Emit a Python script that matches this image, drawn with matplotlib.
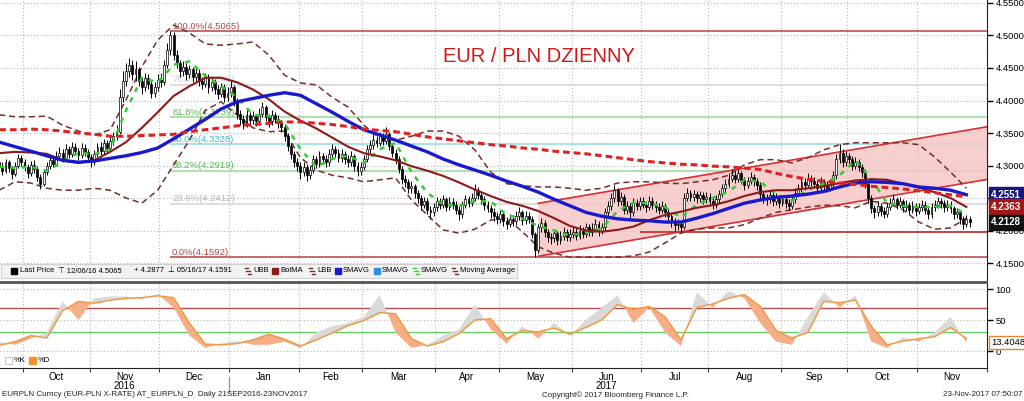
import numpy as np
import pandas as pd
import matplotlib
matplotlib.use("Agg")
import matplotlib.pyplot as plt
import matplotlib.transforms as mtransforms
from matplotlib.patches import Rectangle, Polygon

plt.rcParams['font.family'] = ['Liberation Sans', 'DejaVu Sans']

# ---- daily EUR/PLN bars, 21 Sep 2016 - 23 Nov 2017 (business days) ----
start, end, axis_end = "2016-09-21", "2017-11-23", "2017-12-01"
first_open = 4.305
closes = [
    4.300, 4.292, 4.305, 4.296, 4.287, 4.300, 4.311, 4.306, 4.298, 4.288,
    4.301, 4.295, 4.283, 4.272, 4.290, 4.300, 4.308, 4.303, 4.315, 4.320,
    4.312, 4.325, 4.318, 4.328, 4.322, 4.316, 4.327, 4.321, 4.313, 4.306,
    4.318, 4.328, 4.322, 4.334, 4.327, 4.338, 4.345, 4.352, 4.405, 4.430,
    4.445, 4.455, 4.440, 4.448, 4.430, 4.420, 4.435, 4.425, 4.412, 4.420,
    4.432, 4.428, 4.455, 4.478, 4.500, 4.470, 4.458, 4.445, 4.452, 4.440,
    4.448, 4.436, 4.443, 4.430, 4.425, 4.435, 4.420, 4.428, 4.418, 4.410,
    4.420, 4.405, 4.412, 4.420, 4.400, 4.380, 4.372, 4.365, 4.378, 4.370,
    4.376, 4.368, 4.380, 4.390, 4.375, 4.368, 4.378, 4.372, 4.365, 4.360,
    4.345, 4.330, 4.318, 4.305, 4.300, 4.290, 4.298, 4.285, 4.293, 4.310,
    4.302, 4.315, 4.310, 4.305, 4.318, 4.325, 4.320, 4.312, 4.318, 4.310,
    4.305, 4.315, 4.300, 4.292, 4.298, 4.310, 4.325, 4.332, 4.340, 4.335,
    4.345, 4.338, 4.348, 4.330, 4.320, 4.310, 4.295, 4.280, 4.275, 4.265,
    4.268, 4.258, 4.250, 4.240, 4.245, 4.232, 4.228, 4.236, 4.245, 4.240,
    4.248, 4.236, 4.244, 4.240, 4.232, 4.225, 4.240, 4.248, 4.243, 4.250,
    4.262, 4.255, 4.248, 4.240, 4.235, 4.228, 4.222, 4.218, 4.225, 4.215,
    4.210, 4.218, 4.214, 4.222, 4.228, 4.216, 4.222, 4.218, 4.195, 4.170,
    4.205, 4.212, 4.198, 4.190, 4.188, 4.196, 4.185, 4.192, 4.198, 4.190,
    4.195, 4.198, 4.192, 4.200, 4.195, 4.205, 4.198, 4.203, 4.210, 4.200,
    4.205, 4.228, 4.238, 4.250, 4.262, 4.245, 4.252, 4.232, 4.238, 4.228,
    4.243, 4.238, 4.245, 4.240, 4.236, 4.246, 4.240, 4.236, 4.232, 4.238,
    4.228, 4.222, 4.214, 4.208, 4.210, 4.205, 4.250, 4.258, 4.252, 4.256,
    4.250, 4.254, 4.248, 4.252, 4.246, 4.240, 4.248, 4.256, 4.265, 4.272,
    4.280, 4.286, 4.280, 4.288, 4.278, 4.270, 4.276, 4.282, 4.276, 4.270,
    4.256, 4.250, 4.248, 4.255, 4.245, 4.250, 4.242, 4.248, 4.242, 4.238,
    4.248, 4.258, 4.265, 4.275, 4.270, 4.280, 4.276, 4.272, 4.266, 4.275,
    4.270, 4.266, 4.272, 4.285, 4.310, 4.320, 4.305, 4.315, 4.310, 4.300,
    4.306, 4.298, 4.290, 4.272, 4.250, 4.235, 4.228, 4.238, 4.230, 4.226,
    4.236, 4.242, 4.248, 4.240, 4.245, 4.236, 4.240, 4.232, 4.238, 4.230,
    4.236, 4.240, 4.232, 4.225, 4.236, 4.240, 4.245, 4.242, 4.236, 4.240,
    4.234, 4.225, 4.228, 4.218, 4.210, 4.218, 4.2128]
highs = [
    4.312, 4.306, 4.310, 4.309, 4.300, 4.306, 4.318, 4.316, 4.310, 4.302,
    4.307, 4.308, 4.299, 4.287, 4.295, 4.306, 4.315, 4.313, 4.322, 4.329,
    4.326, 4.333, 4.330, 4.336, 4.334, 4.327, 4.335, 4.333, 4.326, 4.318,
    4.324, 4.335, 4.336, 4.341, 4.340, 4.345, 4.352, 4.362, 4.418, 4.445,
    4.458, 4.465, 4.462, 4.460, 4.452, 4.436, 4.442, 4.440, 4.430, 4.428,
    4.440, 4.442, 4.462, 4.488, 4.5065, 4.505, 4.478, 4.462, 4.460, 4.458,
    4.455, 4.452, 4.450, 4.448, 4.436, 4.442, 4.440, 4.436, 4.433, 4.424,
    4.427, 4.425, 4.420, 4.430, 4.424, 4.404, 4.386, 4.378, 4.385, 4.383,
    4.384, 4.380, 4.388, 4.398, 4.393, 4.380, 4.385, 4.383, 4.377, 4.370,
    4.364, 4.350, 4.335, 4.322, 4.312, 4.306, 4.305, 4.302, 4.300, 4.316,
    4.315, 4.322, 4.320, 4.316, 4.325, 4.333, 4.330, 4.326, 4.325, 4.322,
    4.316, 4.322, 4.318, 4.305, 4.306, 4.316, 4.332, 4.340, 4.348, 4.346,
    4.352, 4.350, 4.360, 4.352, 4.335, 4.325, 4.314, 4.300, 4.286, 4.280,
    4.276, 4.272, 4.263, 4.255, 4.252, 4.250, 4.238, 4.243, 4.252, 4.250,
    4.255, 4.252, 4.251, 4.250, 4.245, 4.237, 4.246, 4.255, 4.253, 4.258,
    4.272, 4.267, 4.260, 4.253, 4.246, 4.240, 4.234, 4.228, 4.232, 4.229,
    4.221, 4.225, 4.224, 4.230, 4.236, 4.232, 4.230, 4.228, 4.222, 4.198,
    4.210, 4.220, 4.216, 4.203, 4.196, 4.203, 4.200, 4.199, 4.205, 4.203,
    4.202, 4.206, 4.204, 4.208, 4.206, 4.212, 4.210, 4.211, 4.218, 4.214,
    4.212, 4.235, 4.246, 4.258, 4.270, 4.266, 4.260, 4.256, 4.246, 4.242,
    4.250, 4.249, 4.252, 4.251, 4.246, 4.253, 4.252, 4.245, 4.242, 4.245,
    4.242, 4.233, 4.227, 4.220, 4.217, 4.215, 4.258, 4.266, 4.263, 4.263,
    4.261, 4.261, 4.259, 4.259, 4.257, 4.251, 4.255, 4.263, 4.272, 4.280,
    4.288, 4.294, 4.292, 4.296, 4.292, 4.283, 4.283, 4.290, 4.287, 4.281,
    4.274, 4.261, 4.256, 4.262, 4.259, 4.257, 4.254, 4.255, 4.253, 4.248,
    4.255, 4.265, 4.272, 4.283, 4.281, 4.288, 4.286, 4.282, 4.277, 4.282,
    4.280, 4.276, 4.280, 4.292, 4.318, 4.333, 4.325, 4.322, 4.320, 4.314,
    4.313, 4.310, 4.302, 4.294, 4.276, 4.254, 4.240, 4.245, 4.243, 4.236,
    4.243, 4.250, 4.256, 4.252, 4.252, 4.249, 4.247, 4.244, 4.245, 4.242,
    4.243, 4.247, 4.245, 4.237, 4.243, 4.247, 4.252, 4.250, 4.247, 4.247,
    4.245, 4.238, 4.235, 4.232, 4.222, 4.224, 4.222]
lows = [
    4.292, 4.285, 4.288, 4.290, 4.280, 4.284, 4.296, 4.300, 4.292, 4.281,
    4.284, 4.289, 4.276, 4.264, 4.268, 4.285, 4.295, 4.297, 4.299, 4.310,
    4.306, 4.308, 4.312, 4.313, 4.316, 4.309, 4.311, 4.314, 4.307, 4.298,
    4.301, 4.313, 4.316, 4.318, 4.320, 4.322, 4.332, 4.340, 4.348, 4.398,
    4.422, 4.436, 4.432, 4.430, 4.422, 4.410, 4.414, 4.418, 4.404, 4.406,
    4.415, 4.420, 4.424, 4.450, 4.470, 4.462, 4.450, 4.436, 4.438, 4.432,
    4.434, 4.428, 4.430, 4.422, 4.418, 4.420, 4.412, 4.414, 4.410, 4.402,
    4.405, 4.398, 4.399, 4.406, 4.392, 4.372, 4.362, 4.356, 4.360, 4.363,
    4.364, 4.361, 4.363, 4.374, 4.368, 4.360, 4.362, 4.365, 4.358, 4.352,
    4.338, 4.322, 4.310, 4.297, 4.292, 4.280, 4.284, 4.276, 4.280, 4.288,
    4.296, 4.298, 4.303, 4.298, 4.300, 4.312, 4.313, 4.305, 4.306, 4.303,
    4.298, 4.300, 4.292, 4.284, 4.286, 4.293, 4.306, 4.320, 4.326, 4.328,
    4.330, 4.331, 4.333, 4.324, 4.313, 4.302, 4.288, 4.272, 4.267, 4.257,
    4.258, 4.250, 4.242, 4.232, 4.234, 4.225, 4.218, 4.222, 4.230, 4.233,
    4.235, 4.230, 4.231, 4.233, 4.225, 4.216, 4.220, 4.235, 4.236, 4.238,
    4.246, 4.248, 4.241, 4.232, 4.228, 4.220, 4.214, 4.210, 4.212, 4.207,
    4.203, 4.205, 4.207, 4.209, 4.216, 4.209, 4.210, 4.211, 4.188, 4.1591,
    4.165, 4.198, 4.190, 4.183, 4.180, 4.182, 4.178, 4.180, 4.186, 4.184,
    4.184, 4.189, 4.185, 4.187, 4.188, 4.190, 4.191, 4.192, 4.197, 4.192,
    4.194, 4.200, 4.222, 4.232, 4.244, 4.238, 4.240, 4.225, 4.226, 4.220,
    4.223, 4.231, 4.232, 4.234, 4.229, 4.231, 4.233, 4.229, 4.225, 4.227,
    4.221, 4.214, 4.206, 4.200, 4.201, 4.198, 4.202, 4.245, 4.245, 4.246,
    4.243, 4.244, 4.241, 4.242, 4.239, 4.233, 4.235, 4.243, 4.251, 4.260,
    4.267, 4.275, 4.273, 4.275, 4.271, 4.263, 4.265, 4.271, 4.269, 4.263,
    4.249, 4.242, 4.240, 4.243, 4.238, 4.240, 4.235, 4.237, 4.235, 4.231,
    4.233, 4.243, 4.253, 4.260, 4.263, 4.265, 4.269, 4.265, 4.259, 4.261,
    4.263, 4.259, 4.261, 4.267, 4.280, 4.304, 4.298, 4.300, 4.303, 4.293,
    4.295, 4.291, 4.283, 4.265, 4.242, 4.227, 4.220, 4.223, 4.223, 4.219,
    4.221, 4.231, 4.237, 4.233, 4.234, 4.229, 4.230, 4.225, 4.227, 4.223,
    4.225, 4.230, 4.226, 4.218, 4.220, 4.230, 4.234, 4.235, 4.229, 4.230,
    4.227, 4.218, 4.219, 4.210, 4.202, 4.205, 4.206]

# ---- indicator lines, read every 5th session ----
step = 5
sma200 = [
    4.355, 4.355, 4.356, 4.355, 4.353, 4.350, 4.348, 4.345, 4.345, 4.346,
    4.347, 4.348, 4.352, 4.355, 4.358, 4.361, 4.363, 4.365, 4.367, 4.367,
    4.365, 4.363, 4.360, 4.356, 4.354, 4.352, 4.348, 4.344, 4.341, 4.338,
    4.335, 4.332, 4.330, 4.327, 4.325, 4.322, 4.320, 4.318, 4.315, 4.312,
    4.309, 4.306, 4.304, 4.302, 4.301, 4.299, 4.298, 4.296, 4.294, 4.288,
    4.283, 4.279, 4.276, 4.273, 4.271, 4.268, 4.266, 4.264, 4.261, 4.258,
    4.255, 4.252]
sma50 = [
    4.336, 4.329, 4.322, 4.315, 4.308, 4.305, 4.307, 4.311, 4.315, 4.320,
    4.327, 4.341, 4.356, 4.371, 4.387, 4.398, 4.403, 4.408, 4.412, 4.408,
    4.395, 4.382, 4.368, 4.355, 4.347, 4.339, 4.330, 4.321, 4.310, 4.301,
    4.293, 4.285, 4.276, 4.268, 4.259, 4.248, 4.238, 4.228, 4.222, 4.218,
    4.216, 4.215, 4.213, 4.213, 4.219, 4.226, 4.234, 4.242, 4.247, 4.251,
    4.253, 4.256, 4.260, 4.267, 4.273, 4.275, 4.274, 4.272, 4.267, 4.265,
    4.262, 4.2551]
bol_ma = [
    4.319, 4.321, 4.320, 4.318, 4.308, 4.304, 4.308, 4.321, 4.336, 4.358,
    4.382, 4.407, 4.422, 4.435, 4.435, 4.428, 4.417, 4.402, 4.383, 4.369,
    4.357, 4.343, 4.329, 4.319, 4.314, 4.308, 4.299, 4.292, 4.284, 4.274,
    4.263, 4.253, 4.244, 4.238, 4.230, 4.219, 4.207, 4.200, 4.198, 4.201,
    4.206, 4.216, 4.224, 4.229, 4.235, 4.239, 4.245, 4.253, 4.259, 4.262,
    4.262, 4.265, 4.268, 4.273, 4.277, 4.279, 4.278, 4.272, 4.266, 4.259,
    4.250, 4.2363]
bol_up = [
    4.378, 4.375, 4.375, 4.376, 4.362, 4.353, 4.347, 4.355, 4.401, 4.452,
    4.493, 4.516, 4.504, 4.487, 4.485, 4.487, 4.490, 4.470, 4.439, 4.427,
    4.424, 4.405, 4.390, 4.362, 4.342, 4.339, 4.345, 4.353, 4.353, 4.345,
    4.324, 4.290, 4.272, 4.269, 4.267, 4.267, 4.265, 4.262, 4.265, 4.273,
    4.275, 4.275, 4.273, 4.272, 4.275, 4.278, 4.285, 4.301, 4.309, 4.309,
    4.304, 4.312, 4.324, 4.332, 4.335, 4.335, 4.335, 4.335, 4.332, 4.313,
    4.290, 4.265]
bol_lo = [
    4.262, 4.275, 4.273, 4.265, 4.262, 4.262, 4.265, 4.262, 4.250, 4.242,
    4.262, 4.301, 4.339, 4.385, 4.398, 4.378, 4.358, 4.352, 4.353, 4.312,
    4.293, 4.285, 4.281, 4.275, 4.278, 4.281, 4.247, 4.224, 4.201, 4.196,
    4.202, 4.216, 4.219, 4.198, 4.175, 4.165, 4.159, 4.159, 4.159, 4.159,
    4.161, 4.167, 4.181, 4.196, 4.202, 4.204, 4.204, 4.209, 4.219, 4.228,
    4.232, 4.236, 4.239, 4.238, 4.235, 4.245, 4.242, 4.232, 4.213, 4.202,
    4.204, 4.219]
sma_fast = [
    4.298, 4.296, 4.298, 4.292, 4.305, 4.320, 4.317, 4.325, 4.385, 4.435,
    4.428, 4.455, 4.460, 4.438, 4.422, 4.405, 4.378, 4.376, 4.365, 4.325,
    4.298, 4.310, 4.315, 4.304, 4.325, 4.335, 4.290, 4.258, 4.240, 4.238,
    4.245, 4.245, 4.224, 4.218, 4.207, 4.200, 4.192, 4.197, 4.203, 4.230,
    4.243, 4.242, 4.236, 4.220, 4.240, 4.250, 4.260, 4.278, 4.275, 4.256,
    4.246, 4.262, 4.272, 4.285, 4.308, 4.280, 4.242, 4.238, 4.236, 4.236,
    4.238, 4.225]
stoch_k = [
    15, 10, 20, 30, 80, 50, 85, 88, 88, 84, 92, 70, 25, 5, 12, 16, 10, 10, 15, 5,
    30, 40, 45, 55, 90, 30, 5, 10, 25, 35, 75, 35, 12, 40, 20, 45, 25, 50, 70, 90,
    45, 70, 30, 8, 95, 70, 97, 85, 45, 15, 10, 55, 95, 70, 90, 15, 5, 22, 15, 30,
    55, 13.4]
stoch_d = [
    9, 15, 25, 21, 65, 80, 77, 82, 85, 86, 89, 86, 45, 11, 10, 12, 18, 27, 19, 8,
    18, 29, 41, 49, 62, 60, 20, 8, 15, 28, 50, 52, 20, 33, 31, 37, 27, 38, 50, 75,
    67, 72, 55, 18, 70, 76, 85, 91, 72, 33, 21, 30, 80, 78, 82, 40, 10, 16, 20, 23,
    38, 20]

# ---- drawing tools: Fibonacci retracement, trend channel, support ----
fib_from = "2016-12-06"
fib_pct = ["100.0%", "76.4%", "61.8%", "50.0%", "38.2%", "23.6%", "0.0%"]
fib_val = [4.5065, 4.4245, 4.3739, 4.3328, 4.2919, 4.2412, 4.1592]
fib_line = ["#b04444", "#d4d4d4", "#9ad89a", "#8fdcdc", "#9ad89a", "#d4d4d4", "#b04444"]
fib_text = ["#b04444", "#d0d0d0", "#55b855", "#44bbcc", "#55b855", "#b8b8b8", "#b04444"]
channel_dates = ["2017-05-17", "2017-12-01"]
channel_top = [4.2419, 4.3600]
channel_bot = [4.1604, 4.2790]
support_from, support = "2017-06-30", 4.1975
last_vals = [4.2551, 4.2363, 4.2128]
last_cols = ["#16167c", "#a31616", "#111111"]
stoch_last = 13.4048

# ---- positions on a business-day axis ----
days = pd.bdate_range(start, axis_end)
def pos(d):
    return days.get_loc(pd.Timestamp(d))

closes = np.array(closes); highs = np.array(highs); lows = np.array(lows)
x = np.arange(len(closes))
opens = np.r_[first_open, closes[:-1]]
xs = np.arange(0, len(closes), step)[:len(sma200)]

mon = days.month
bounds = [i - 0.5 for i in range(1, len(days)) if mon[i] != mon[i - 1]]
centers = [(a + b) / 2 for a, b in zip(bounds[:-1], bounds[1:])]
mlabels = [days[int(b + 0.5)].strftime("%b") for b in bounds[:-1]]

fig = plt.figure(figsize=(10.24, 4.01), dpi=100)
ax = fig.add_axes([0, 1 - 282 / 401, 987 / 1024, 282 / 401])
ax2 = fig.add_axes([0, 1 - 368 / 401, 987 / 1024, 85 / 401], sharex=ax)
ax.set_xlim(0.26, 310.9)
ax.set_ylim(4.1208, 4.5546)
ax2.set_ylim(-27.4, 109.7)

grid_kw = dict(color="#b4b4b4", lw=0.8, ls=(0, (1, 2)))
for a in (ax, ax2):
    a.set_xticks(bounds)
    a.grid(True, **grid_kw)
    a.set_axisbelow(True)
    a.yaxis.tick_right()
    a.tick_params(axis="y", direction="out", length=4, width=1, pad=2, labelsize=6.8)
    for s in ("left", "top"):
        a.spines[s].set_visible(False)
    a.spines["right"].set_color("#222222")

yt = np.arange(4.15, 4.551, 0.05)
ax.set_yticks(yt)
# the 4.2500 label sits under the last-value boxes, as on the terminal
ax.set_yticklabels(["" if abs(v - 4.25) < 1e-6 else f"{v:.4f}" for v in yt])
ax.tick_params(axis="x", length=0, labelbottom=False)
ax.spines["bottom"].set_color("#555555")
ax.spines["bottom"].set_linewidth(1.3)
ax2.spines["top"].set_visible(True)
ax2.spines["top"].set_color("#555555")
ax2.spines["top"].set_linewidth(1.3)

# fibonacci levels
x_fib = pos(fib_from)
for p, v, lc, tc in zip(fib_pct, fib_val, fib_line, fib_text):
    ax.hlines(v, x_fib, 320, color=lc, lw=1.1, zorder=1)
    ax.text(x_fib + 0.5, v + 0.0007, f"{p}({v:.4f})", color=tc, fontsize=6.8,
            va="bottom", ha="left", zorder=1)

# trend channel
c0, c1 = pos(channel_dates[0]), pos(channel_dates[1])
ax.add_patch(Polygon([(c0, channel_top[0]), (c1, channel_top[1]),
                      (c1, channel_bot[1]), (c0, channel_bot[0])],
                     closed=True, fc="#f7c4c4", ec="none", alpha=0.8, zorder=1.5))
ax.plot([c0, c1], channel_top, color="#d83030", lw=1.2, zorder=2)
ax.plot([c0, c1], channel_bot, color="#d83030", lw=1.2, zorder=2)
ax.hlines(support, pos(support_from), 320, color="#cc3333", lw=1.3, zorder=2)

# bollinger bands
band_kw = dict(color="#7a2c2c", lw=1.1, ls=(0, (4, 2.5)), zorder=3)
ax.plot(xs, bol_up, **band_kw)
ax.plot(xs, bol_lo, **band_kw)

# candles
up = closes >= opens
body_lo = np.minimum(opens, closes)
body_h = np.maximum(np.abs(closes - opens), 0.0007)
ax.vlines(x, lows, highs, color="black", lw=0.7, zorder=4)
ax.bar(x[up], body_h[up], bottom=body_lo[up], width=0.6, color="white",
       edgecolor="black", lw=0.5, zorder=5)
ax.bar(x[~up], body_h[~up], bottom=body_lo[~up], width=0.6, color="black",
       edgecolor="black", lw=0.5, zorder=5)

# moving averages
ax.plot(xs, sma_fast, color="#33cc33", lw=1.8, ls=(0, (2, 2.5)), zorder=6)
ax.plot(xs, bol_ma, color="#8b1a1a", lw=1.5, zorder=7)
ax.plot(xs, sma50, color="#1a1acc", lw=2.4, zorder=8)
ax.plot(xs, sma200, color="#dd2222", lw=2.2, ls=(0, (2.2, 1.3)), zorder=9)

ax.text(0.546, 0.80, "EUR / PLN DZIENNY", transform=ax.transAxes, color="#d01818",
        fontsize=14.5, ha="center", va="center")

trans = mtransforms.blended_transform_factory(ax.transAxes, ax.transData)
for v, c in zip(last_vals, last_cols):
    ax.text(1.004, v, f"{v:.4f}", transform=trans, color="white", fontsize=7,
            fontweight="bold", va="center", ha="left", clip_on=False, zorder=20,
            bbox=dict(boxstyle="square,pad=0.25", fc=c, ec=c))

# stochastic panel
xs_k = np.arange(0, len(closes), step)[:len(stoch_k)]
k = np.array(stoch_k, float); d = np.array(stoch_d, float)
ax2.fill_between(xs_k, k, d, where=k >= d, interpolate=True, color="#d9d9d9", lw=0, zorder=2)
ax2.fill_between(xs_k, k, d, where=k < d, interpolate=True, color="#f6ae86", lw=0, zorder=2)
ax2.plot(xs_k, d, color="#f09a48", lw=1.1, zorder=3)
ax2.axhline(70, color="#b05050", lw=1.0, zorder=1)
ax2.axhline(30, color="#66cc66", lw=1.0, zorder=1)
ax2.set_yticks([0, 50, 100])
ax2.set_xticks(centers, minor=True)
ax2.set_xticklabels(mlabels, minor=True)
ax2.tick_params(axis="x", which="major", length=3, labelbottom=False, color="#444444")
ax2.tick_params(axis="x", which="minor", length=0, labelsize=7, pad=3)
ax2.spines["bottom"].set_color("#222222")
trans2 = mtransforms.blended_transform_factory(ax2.transAxes, ax2.transData)
ax2.text(1.004, stoch_last, f"{stoch_last:.4f}", transform=trans2, color="black",
         fontsize=6.8, va="center", ha="left", clip_on=False, zorder=20,
         bbox=dict(boxstyle="square,pad=0.2", fc="white", ec="#e08a30"))

yr = mtransforms.blended_transform_factory(ax2.transData, ax2.transAxes)
ax2.text(centers[1], -0.15, "2016", transform=yr, ha="center", va="top", fontsize=7)
ax2.text(centers[8], -0.15, "2017", transform=yr, ha="center", va="top", fontsize=7)
ax2.plot([bounds[3], bounds[3]], [-0.11, -0.28], transform=yr, color="#999999",
         lw=1, clip_on=False)

# legend strips and footer (pixel overlay)
ov = fig.add_axes([0, 0, 1, 1], zorder=10)
ov.set_xlim(0, 1024); ov.set_ylim(401, 0); ov.axis("off")
ov.add_patch(Rectangle((1, 264), 516, 14, fc="#f2f2f2", ec="#cfcfcf", lw=0.8))
fs = 5.5
ov.add_patch(Rectangle((11, 268), 6, 6, fc="black", ec="black"))
ov.text(20, 271, "Last Price", fontsize=fs, va="center")
ov.text(58, 271, "\u22a4 12/06/16 4.5065", fontsize=fs, va="center")
ov.text(134, 271, "+ 4.2877", fontsize=fs, va="center")
ov.text(168, 271, "\u22a5 05/16/17 4.1591", fontsize=fs, va="center")
items = [(245, "UBB", "dash", "#7a2c2c"), (272, "BolMA", "box", "#8b1a1a"),
         (309, "LBB", "dash", "#7a2c2c"), (335, "SMAVG", "box", "#1a1acc"),
         (374, "SMAVG", "box", "#2e8fe0"), (413, "SMAVG", "dash", "#33cc33"),
         (452, "Moving Average", "dash", "#7a2c2c")]
for xi, name, kind, col in items:
    if kind == "box":
        ov.add_patch(Rectangle((xi, 268), 6, 6, fc=col, ec=col))
    else:
        ov.plot([xi, xi + 3], [268, 268], color=col, lw=1)
        ov.plot([xi + 3, xi + 6], [274, 274], color=col, lw=1)
        ov.plot([xi + 1, xi + 5], [271, 271], color=col, lw=1)
    ov.text(xi + 8, 271, name, fontsize=fs, va="center")
ov.add_patch(Rectangle((5, 357), 7, 7, fc="white", ec="#bbbbbb", lw=0.6))
ov.text(14, 360.5, "%K", fontsize=fs, va="center")
ov.add_patch(Rectangle((29, 357), 7, 7, fc="#f0952e", ec="#f0952e"))
ov.text(38, 360.5, "%D", fontsize=fs, va="center")

ov.text(2, 395, "EURPLN Curncy (EUR-PLN X-RATE) AT_EURPLN_D  Daily 21SEP2016-23NOV2017",
        fontsize=5.8, va="center", color="#222222")
ov.text(615, 395, "Copyright\u00a9 2017 Bloomberg Finance L.P.", fontsize=5.8,
        ha="center", va="center", color="#222222")
ov.text(1022, 395, "23-Nov-2017 07:50:07", fontsize=5.8, ha="right", va="center",
        color="#222222")

fig.savefig("out.png", dpi=100)
